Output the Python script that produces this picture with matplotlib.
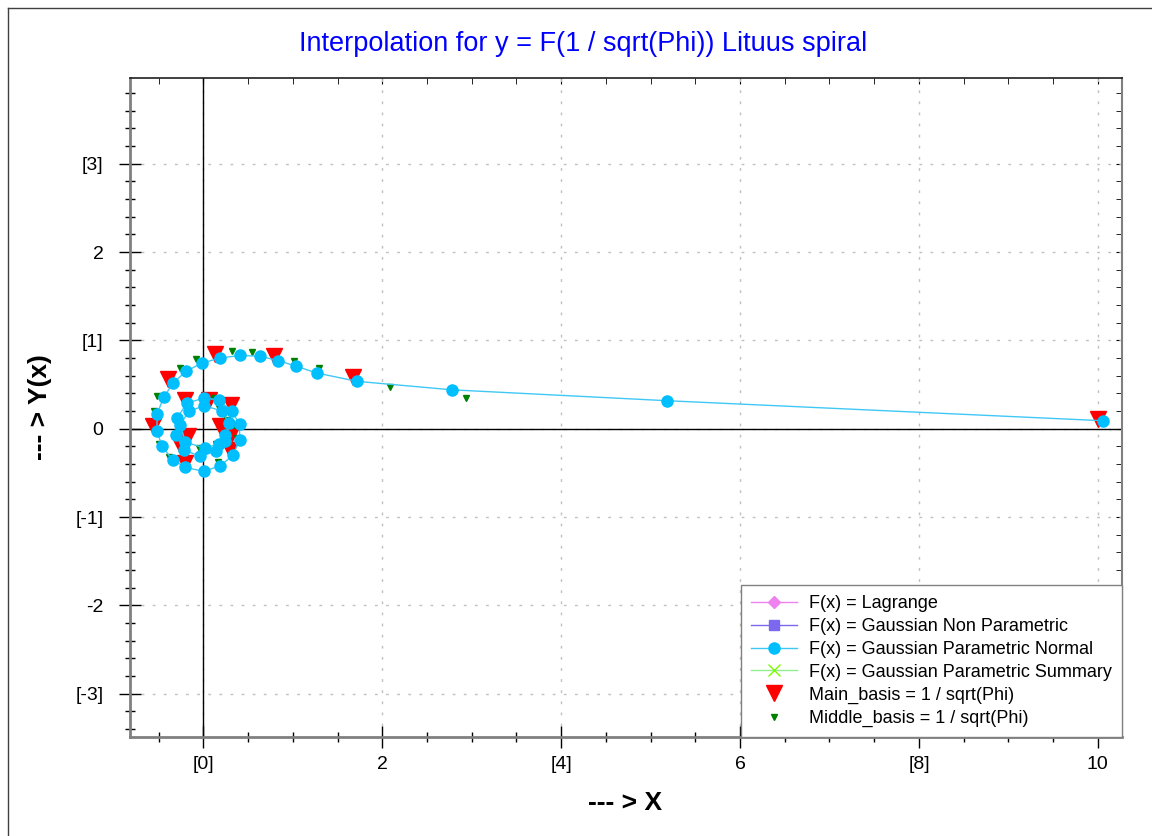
import matplotlib.pyplot as plt
from matplotlib.lines import Line2D
from matplotlib.ticker import MultipleLocator, FixedLocator

plt.rcParams['font.family'] = ['Liberation Sans', 'DejaVu Sans']

# F(x) = Gaussian Parametric Normal (in path order)
normal_x = [10.06, 5.18, 2.78, 1.72, 1.27, 1.04, 0.84, 0.637, 0.413, 0.19,
            -0.015, -0.194, -0.339, -0.443, -0.518, -0.518, -0.462, -0.343, -0.201, 0.004,
            0.19, 0.332, 0.405, 0.405, 0.32, 0.171, 0.004, -0.182, -0.294, -0.302,
            -0.218, -0.041, 0.145, 0.246, 0.283, 0.209, 0.004, -0.164, -0.257, -0.2,
            0.022, 0.171, 0.246]
normal_y = [0.09, 0.317, 0.44, 0.536, 0.63, 0.706, 0.77, 0.82, 0.83, 0.80,
            0.744, 0.649, 0.517, 0.355, 0.166, -0.025, -0.20, -0.351, -0.438, -0.483,
            -0.419, -0.30, -0.125, 0.053, 0.196, 0.328, 0.345, 0.291, 0.121, -0.068,
            -0.238, -0.313, -0.257, -0.144, 0.064, 0.204, 0.258, 0.196, 0.045, -0.154,
            -0.219, -0.17, -0.068]

# Main_basis = 1 / sqrt(Phi)
main_x = [10.0, 1.67, 0.786, 0.134, -0.40, -0.566, -0.209, 0.302, 0.313, 0.067,
          -0.201, -0.276, -0.17, 0.19, 0.305]
main_y = [0.11, 0.59, 0.825, 0.845, 0.56, 0.035, -0.39, -0.238, 0.27, 0.328,
          0.328, -0.16, -0.087, 0.026, -0.068]

# Middle_basis = 1 / sqrt(Phi)
middle_x = [2.94, 2.09, 1.29, 1.01, 0.544, 0.32, -0.078, -0.257, -0.52, -0.556,
            -0.50, -0.38, 0.16, 0.376, 0.339, 0.171, 0.115, -0.052, 0.145, 0.265]
middle_y = [0.347, 0.472, 0.69, 0.77, 0.87, 0.875, 0.79, 0.69, 0.37, 0.20,
            -0.168, -0.322, -0.373, -0.106, 0.045, 0.234, 0.347, -0.219, -0.174, 0.102]

x_ticks = [0, 2, 4, 6, 8, 10]
x_labels = ['[0]', '2', '[4]', '6', '[8]', '10']
y_ticks = [-3, -2, -1, 0, 1, 2, 3]
y_labels = ['[-3]', '-2', '[-1]', '0', '[1]', '2', '[3]']

fig = plt.figure(figsize=(11.52, 8.36), dpi=100, facecolor='w')
ax = fig.add_axes([130/1152, 1-737/836, 992/1152, 659/836])

ax.set_xlim(-0.82, 10.27)
ax.set_ylim(-3.49, 3.97)

ax.grid(True, which='major', color='#c0c0c0', linestyle=(0, (2, 6)), linewidth=1, zorder=1)
ax.set_axisbelow(True)
ax.axhline(0, color='k', linewidth=1, zorder=2)
ax.axvline(0, color='k', linewidth=1, zorder=2)

# legend only series (nothing visible on the chart)
ax.plot([], [], color='#ee82ee', marker='D', markersize=6, linewidth=1, label='F(x) = Lagrange')
ax.plot([], [], color='#7b68ee', marker='s', markersize=7, linewidth=1, label='F(x) = Gaussian Non Parametric')

ax.plot(main_x, main_y, linestyle='none', marker='v', markersize=11, color='#ff0000', zorder=3)
ax.plot(middle_x, middle_y, linestyle='none', marker='v', markersize=5, color='#008000', zorder=3)
ax.plot(normal_x, normal_y, color='#40c8f5', linewidth=1, marker='o', markersize=8,
        markerfacecolor='#00bfff', markeredgecolor='#00bfff', zorder=4,
        label='F(x) = Gaussian Parametric Normal')
ax.plot([], [], color='#90ee90', marker='x', markersize=8, linewidth=1,
        markeredgecolor='#7cfc00', label='F(x) = Gaussian Parametric Summary')
ax.plot([], [], linestyle='none', marker='v', markersize=11, color='#ff0000',
        label='Main_basis = 1 / sqrt(Phi)')
ax.plot([], [], linestyle='none', marker='v', markersize=5, color='#008000',
        label='Middle_basis = 1 / sqrt(Phi)')

ax.xaxis.set_major_locator(FixedLocator(x_ticks))
ax.set_xticklabels(x_labels)
ax.yaxis.set_major_locator(FixedLocator(y_ticks))
ax.set_yticklabels(y_labels)
ax.xaxis.set_minor_locator(MultipleLocator(0.5))
ax.yaxis.set_minor_locator(MultipleLocator(0.2))

ax.tick_params(axis='both', which='major', direction='inout', length=16, width=1, colors='k', labelsize=14)
ax.tick_params(axis='both', which='minor', direction='inout', length=7.5, width=1, colors='k')
ax.tick_params(axis='x', which='major', pad=6)
ax.tick_params(axis='y', which='major', pad=11)

# short inward ticks on top and right
top = ax.secondary_xaxis('top')
top.xaxis.set_major_locator(FixedLocator(x_ticks))
top.xaxis.set_minor_locator(MultipleLocator(0.5))
top.tick_params(which='both', direction='in', length=4, labeltop=False)
right = ax.secondary_yaxis('right')
right.yaxis.set_major_locator(FixedLocator(y_ticks))
right.yaxis.set_minor_locator(MultipleLocator(0.2))
right.tick_params(which='both', direction='in', length=4, labelright=False)
for s in top.spines.values():
    s.set_visible(False)
for s in right.spines.values():
    s.set_visible(False)

ax.spines['left'].set_color('#808080')
ax.spines['left'].set_linewidth(2)
ax.spines['bottom'].set_color('#808080')
ax.spines['bottom'].set_linewidth(2)
ax.spines['top'].set_color('#202020')
ax.spines['top'].set_linewidth(1.2)
ax.spines['right'].set_color('#808080')
ax.spines['right'].set_linewidth(1.5)

leg = ax.legend(loc='lower right', borderaxespad=0, fontsize=13, handlelength=2.5,
                fancybox=False, framealpha=1, edgecolor='#808080', borderpad=0.55,
                labelspacing=0.33, handletextpad=0.7)
leg.get_frame().set_linewidth(1)

fig.text(583/1152, 1-44/836, 'Interpolation for y = F(1 / sqrt(Phi)) Lituus spiral',
         ha='center', va='center', color='#0000ff', fontsize=19.5)
fig.text(625/1152, 1-803/836, '--- > X', ha='center', va='center', fontsize=19, fontweight='bold')
fig.text(40/1152, 1-407/836, '--- > Y(x)', ha='center', va='center', rotation=90,
         fontsize=19, fontweight='bold')

# outer frame (top and left edges)
fig.add_artist(Line2D([8/1152, 8/1152], [0, 1-8/836], transform=fig.transFigure, color='#404040', linewidth=1))
fig.add_artist(Line2D([8/1152, 1], [1-8/836, 1-8/836], transform=fig.transFigure, color='#404040', linewidth=1))

fig.savefig('out.png', dpi=100)
